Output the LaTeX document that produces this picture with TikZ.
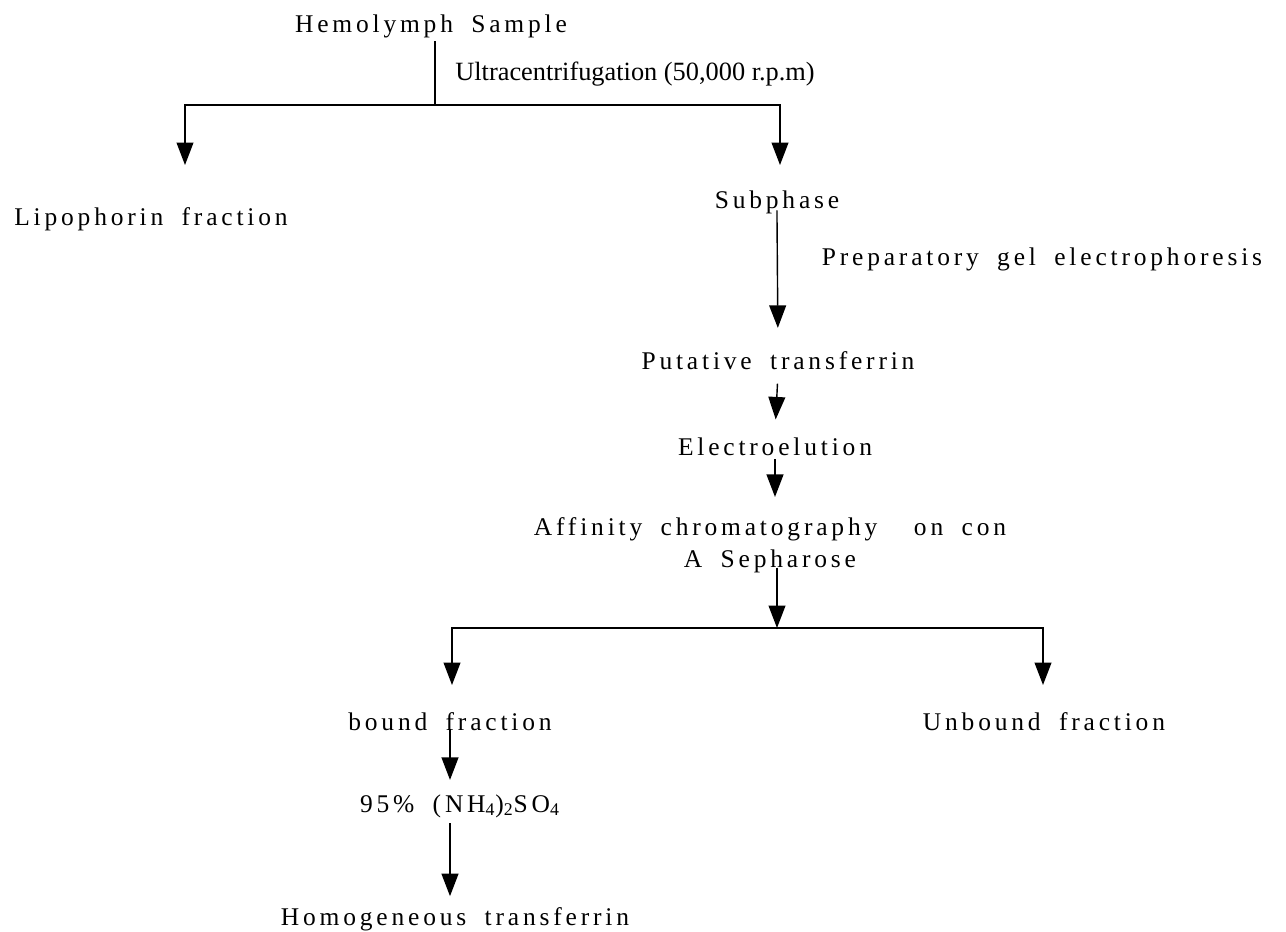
\documentclass[tikz,border=0pt]{standalone}
\usepackage{fontspec}
\setmainfont{Liberation Serif}
\newfontfamily\spaced[LetterSpace=15,WordSpace=1.8]{Liberation Serif}
\usepackage{tikz}
\usetikzlibrary{arrows.meta}
\tikzstyle{stage}=[anchor=base,inner sep=2pt,font=\spaced\fontsize{14.5}{18}\selectfont]
\tikzstyle{note}=[anchor=base west,inner sep=0pt,font=\fontsize{15}{18}\selectfont]
\tikzstyle{flow}=[-{Triangle[width=9.6pt,length=12.8pt]},line width=0.8pt]

\begin{document}
\begin{tikzpicture}[x=0.02cm,y=-0.02cm]
        \useasboundingbox (0,0) rectangle (1286,931);
        \node at ( 431, 32) [stage] (hemo) {Hemolymph Sample};
        \node at ( 455, 80) [note] (ultra) {Ultracentrifugation (50,000 r.p.m)};
        \node at ( 151,225) [stage] (lipo) {Lipophorin fraction};
        \node at ( 777,208) [stage] (sub) {Subphase};
        \node at ( 818,265) [stage,anchor=base west] (prep) {Preparatory gel electrophoresis};
        \node at ( 778,369) [stage] (put) {Putative transferrin};
        \node at ( 775,455) [stage] (elec) {Electroelution};
        \node at ( 770,545) [stage,anchor=center,align=center] (affin) {Affinity chromatography\ \ on con\\A Sepharose};
        \node at ( 450,730) [stage] (bound) {bound fraction};
        \node at (1044,730) [stage] (unbound) {Unbound fraction};
        \node at ( 460,812) [stage] (salt) {95\% (NH\textsubscript{4})\textsubscript{2}SO\textsubscript{4}};
        \node at ( 455,925) [stage] (homo) {Homogeneous transferrin};
        % branch points and arrow ends
        \coordinate (split1) at ( 435,105);
        \coordinate (lipoIn) at ( 185,165);
        \coordinate (subIn) at ( 780,165);
        \coordinate (split2) at ( 777,628);
        \coordinate (boundIn) at ( 452,685);
        \coordinate (unboundIn) at (1043,685);
        \draw [line width=0.8pt] (hemo.south -| split1) -- (split1);
        \draw [flow] (split1) -| (lipoIn);
        \draw [flow] (split1) -| (subIn);
        \draw [flow,shorten <=-4pt,shorten >=11pt] (sub.south) -- (put.north);
        \draw [flow,shorten <=6pt,shorten >=8pt] (put.south) -- (elec.north);
        \draw [flow,shorten >=9.5pt] (elec.south) -- (affin.north -| elec.south);
        \draw [flow,shorten <=-5pt] (affin.south -| split2) -- (split2);
        \draw [flow] (split2) -| (boundIn);
        \draw [flow] (split2) -| (unboundIn);
        \draw [flow,shorten <=-3pt,shorten >=6pt] (bound.south) -- (bound.south |- salt.north);
        \draw [flow,shorten <=1pt,shorten >=4pt] (bound.south |- salt.south) -- (bound.south |- homo.north);
      \end{tikzpicture}
\end{document}
